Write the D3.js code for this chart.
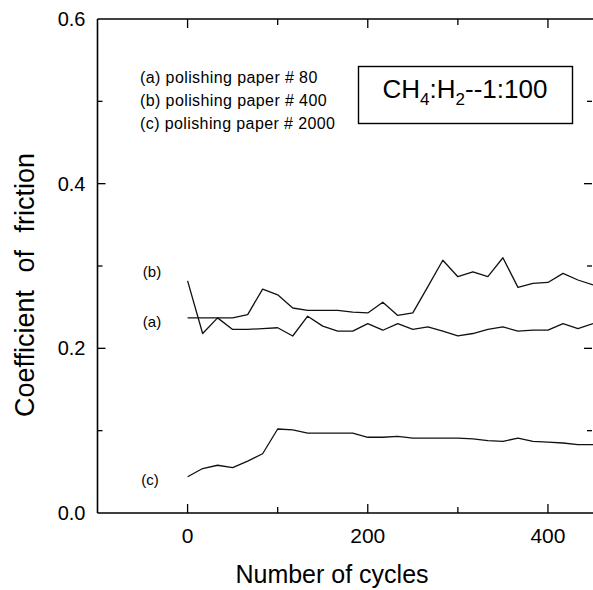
<!DOCTYPE html>
<html>
<head>
<meta charset="utf-8">
<script src="https://cdn.jsdelivr.net/npm/d3@7"></script>
<style>
  body { margin: 0; background: #fff; }
  svg { display: block; font-family: Arial, "Liberation Sans", sans-serif; }
</style>
</head>
<body>
<svg id="chart"></svg>
<script>
// Data (cycles vs coefficient of friction)
const cycles = [0, 16.7, 33.3, 50, 66.7, 83.3, 100, 116.7, 133.3, 150, 166.7, 183.3, 200, 216.7,
                233.3, 250, 266.7, 283.3, 300, 316.7, 333.3, 350, 366.7, 383.3, 400, 416.7, 433.3, 450];
const seriesA = [0.237, 0.237, 0.237, 0.237, 0.241, 0.272, 0.265, 0.249, 0.246, 0.246, 0.246, 0.244, 0.243, 0.256,
                 0.240, 0.243, 0.275, 0.307, 0.287, 0.293, 0.287, 0.310, 0.274, 0.279, 0.280, 0.291, 0.283, 0.277];
const seriesB = [0.282, 0.218, 0.237, 0.223, 0.223, 0.224, 0.225, 0.215, 0.239, 0.227, 0.221, 0.221, 0.230, 0.222,
                 0.230, 0.223, 0.226, 0.221, 0.215, 0.218, 0.223, 0.226, 0.221, 0.222, 0.222, 0.230, 0.224, 0.230];
const seriesC = [0.044, 0.054, 0.058, 0.055, 0.063, 0.072, 0.102, 0.101, 0.097, 0.097, 0.097, 0.097, 0.092, 0.092,
                 0.093, 0.091, 0.091, 0.091, 0.091, 0.090, 0.088, 0.087, 0.091, 0.087, 0.086, 0.085, 0.083, 0.083];

const seriesTags = ["(a)", "(b)", "(c)"];
const legendLines = ["(a) polishing paper # 80", "(b) polishing paper # 400", "(c) polishing paper # 2000"];
const xTicks = [0, 200, 400];
const xMinor = [100, 300];
const yTicks = [0, 0.2, 0.4, 0.6];
const yMinor = [0.1, 0.3, 0.5];
const yTickLabels = ["0.0", "0.2", "0.4", "0.6"];

const width = 593;
const height = 590;
const marginTop = 19;
const marginRight = 0;
const marginBottom = 77;
const marginLeft = 97.5;

const x = d3.scaleLinear()
    .domain([-100, 450])
    .range([marginLeft, width - marginRight]);

const y = d3.scaleLinear()
    .domain([0, 0.6])
    .range([height - marginBottom, marginTop]);

const svg = d3.select("#chart")
    .attr("width", width)
    .attr("height", height)
    .attr("viewBox", [0, 0, width, height]);

// Frame: axes with inward ticks
const frame = svg.append("g").attr("stroke", "#000").attr("stroke-width", 1.6).attr("fill", "none");
frame.append("line").attr("x1", x(-100)).attr("x2", x(450)).attr("y1", y(0)).attr("y2", y(0));
frame.append("line").attr("x1", x(-100)).attr("x2", x(450)).attr("y1", y(0.6)).attr("y2", y(0.6));
frame.append("line").attr("x1", x(-100)).attr("x2", x(-100)).attr("y1", y(0)).attr("y2", y(0.6));

const ticks = svg.append("g").attr("stroke", "#000").attr("stroke-width", 1.3);
[...xTicks, ...xMinor].forEach(v => {
  const len = xTicks.includes(v) ? 9 : 6;
  ticks.append("line").attr("x1", x(v)).attr("x2", x(v)).attr("y1", y(0)).attr("y2", y(0) - len);
  ticks.append("line").attr("x1", x(v)).attr("x2", x(v)).attr("y1", y(0.6)).attr("y2", y(0.6) + len);
});
[...yTicks, ...yMinor].filter(v => v > 0 && v < 0.6).forEach(v => {
  const len = yTicks.includes(v) ? 8 : 5;
  ticks.append("line").attr("x1", x(-100)).attr("x2", x(-100) + len).attr("y1", y(v)).attr("y2", y(v));
  ticks.append("line").attr("x1", width - 1).attr("x2", width - 1 - len).attr("y1", y(v)).attr("y2", y(v));
});

// Tick labels
svg.append("g")
    .attr("font-size", 21)
    .attr("text-anchor", "middle")
  .selectAll("text")
  .data(xTicks)
  .join("text")
    .attr("x", d => x(d))
    .attr("y", y(0) + 30)
    .text(d => d);

svg.append("g")
    .attr("font-size", 20)
    .attr("text-anchor", "end")
  .selectAll("text")
  .data(yTicks)
  .join("text")
    .attr("x", x(-100) - 12)
    .attr("y", d => y(d) + 7)
    .text((d, i) => yTickLabels[i]);

// Axis titles
svg.append("text")
    .attr("x", 332)
    .attr("y", 583)
    .attr("font-size", 25)
    .attr("text-anchor", "middle")
    .text("Number of cycles");

svg.append("text")
    .attr("transform", "translate(34,285) rotate(-90)")
    .attr("font-size", 27)
    .attr("text-anchor", "middle")
    .attr("word-spacing", 10)
    .text("Coefficient of friction");

// Lines
const line = d3.line()
    .x((d, i) => x(cycles[i]))
    .y(d => y(d));

svg.append("g")
    .attr("fill", "none")
    .attr("stroke", "#111")
    .attr("stroke-width", 1.3)
    .attr("stroke-linejoin", "round")
  .selectAll("path")
  .data([seriesA, seriesB, seriesC])
  .join("path")
    .attr("d", d => line(d));

// Series tags beside the line starts
const tagPos = [[152, 0.232], [152, 0.293], [150, 0.04]];
svg.append("g")
    .attr("font-size", 15)
    .attr("text-anchor", "middle")
  .selectAll("text")
  .data(seriesTags)
  .join("text")
    .attr("x", (d, i) => tagPos[i][0])
    .attr("y", (d, i) => y(tagPos[i][1]) + 5)
    .text(d => d);

// Legend text
svg.append("g")
    .attr("font-size", 16)
    .attr("letter-spacing", 0.4)
  .selectAll("text")
  .data(legendLines)
  .join("text")
    .attr("x", 140)
    .attr("y", (d, i) => 83 + i * 23)
    .text(d => d);

// Gas ratio box
const box = svg.append("g");
box.append("rect")
    .attr("x", 358.5)
    .attr("y", 66.5)
    .attr("width", 214)
    .attr("height", 57)
    .attr("fill", "none")
    .attr("stroke", "#000")
    .attr("stroke-width", 1.4);

const label = box.append("text")
    .attr("x", 465)
    .attr("y", 98)
    .attr("font-size", 26)
    .attr("text-anchor", "middle");
label.append("tspan").text("CH");
label.append("tspan").attr("font-size", 17).attr("dy", 7).text("4");
label.append("tspan").attr("dy", -7).text(":H");
label.append("tspan").attr("font-size", 17).attr("dy", 7).text("2");
label.append("tspan").attr("dy", -7).text("--1:100");
</script>
</body>
</html>
